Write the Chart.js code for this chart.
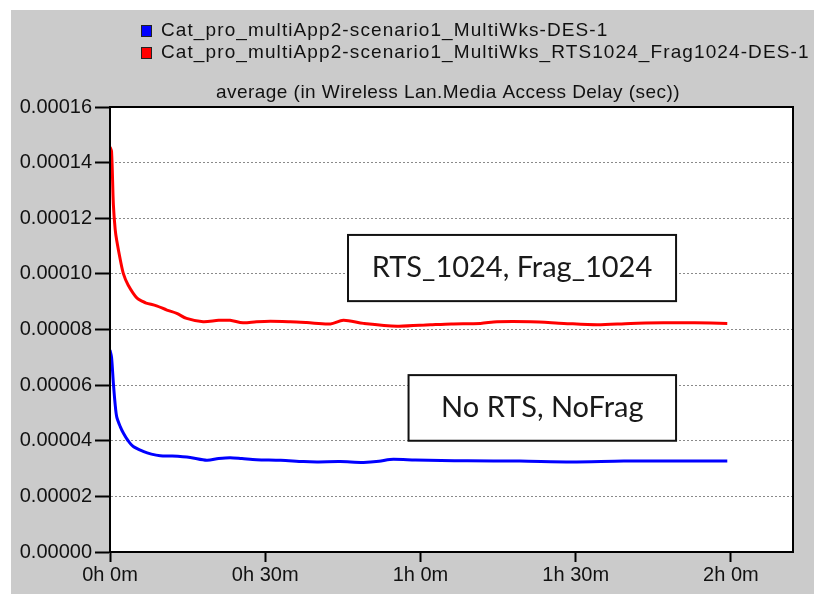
<!DOCTYPE html>
<html>
<head>
<meta charset="utf-8">
<script src="https://cdn.jsdelivr.net/npm/chart.js@4.4.0/dist/chart.umd.min.js"></script>
<style>
html, body { margin: 0; padding: 0; background: #fff; }
#wrap { width: 814px; height: 594px; }
</style>
</head>
<body>
<div id="wrap"><canvas id="myChart" width="814" height="594"></canvas></div>
<script>
// Data: Wireless LAN media access delay (sec), x in minutes of simulated time
const seriesNames = [
  'Cat_pro_multiApp2-scenario1_MultiWks-DES-1',
  'Cat_pro_multiApp2-scenario1_MultiWks_RTS1024_Frag1024-DES-1'
];
const chartTitle = 'average (in Wireless Lan.Media Access Delay (sec))';
const noteTexts = ['RTS_1024, Frag_1024', 'No RTS, NoFrag'];

// blue: no RTS, no fragmentation
const minutesBlue = [0, 0.3, 0.65, 1, 1.3, 2, 2.6, 3.5, 4.5, 6.4, 8, 9.7, 12, 15.5, 18.7, 21, 23.2, 25.5, 28.3, 33, 37.4, 40, 44.5, 49, 52, 54.1, 59, 64, 69.1, 79.2, 89.2, 99.3, 109.4, 119.3];
const delayBlue = [7.26e-5, 7.0e-5, 6.07e-5, 5.3e-5, 4.86e-5, 4.5e-5, 4.27e-5, 4.0e-5, 3.79e-5, 3.62e-5, 3.52e-5, 3.46e-5, 3.45e-5, 3.40e-5, 3.30e-5, 3.36e-5, 3.39e-5, 3.36e-5, 3.32e-5, 3.30e-5, 3.25e-5, 3.24e-5, 3.25e-5, 3.22e-5, 3.26e-5, 3.33e-5, 3.31e-5, 3.29e-5, 3.28e-5, 3.27e-5, 3.24e-5, 3.27e-5, 3.27e-5, 3.27e-5];

// red: RTS 1024, frag 1024
const minutesRed = [0, 0.3, 0.65, 1, 1.3, 2, 2.6, 3.5, 5.2, 6.4, 7, 9, 11, 12.9, 14.8, 18, 21, 23.2, 25.7, 28.3, 31, 34.8, 38, 42.6, 45.1, 49, 55.5, 61.9, 66, 71.6, 74.8, 81.3, 87.7, 94.2, 100.6, 107, 113, 119.3];
const delayRed = [1.456e-4, 1.44e-4, 1.25e-4, 1.16e-4, 1.12e-4, 1.05e-4, 1.0e-4, 9.6e-5, 9.13e-5, 9.0e-5, 8.95e-5, 8.85e-5, 8.7e-5, 8.58e-5, 8.40e-5, 8.28e-5, 8.33e-5, 8.33e-5, 8.24e-5, 8.28e-5, 8.30e-5, 8.28e-5, 8.25e-5, 8.20e-5, 8.33e-5, 8.22e-5, 8.12e-5, 8.17e-5, 8.20e-5, 8.22e-5, 8.28e-5, 8.28e-5, 8.22e-5, 8.17e-5, 8.22e-5, 8.24e-5, 8.24e-5, 8.22e-5];

const xTickMinutes = [0, 30, 60, 90, 120];
const yMax = 0.00016;
const yStep = 0.00002;
const xMax = 132;

function toPoints(xs, ys) {
  return xs.map((x, i) => ({ x: x, y: ys[i] }));
}

function minuteLabel(m) {
  return Math.floor(m / 60) + 'h ' + (m % 60) + 'm';
}

// note boxes placed in data units (minutes, seconds)
const notes = [
  { text: noteTexts[0], x0: 46.0, x1: 109.4, y0: 1.14e-4, y1: 9.02e-5 },
  { text: noteTexts[1], x0: 57.7, x1: 109.4, y0: 6.36e-5, y1: 4.0e-5 }
];

const frame = {
  id: 'frame',
  beforeDraw(chart) {
    const { ctx, chartArea: a } = chart;
    ctx.save();
    ctx.fillStyle = '#ffffff';
    ctx.fillRect(0, 0, chart.width, chart.height);
    ctx.fillStyle = '#cbcbcb';
    ctx.fillRect(11, 10, chart.width - 11, chart.height - 10);
    ctx.fillStyle = '#ffffff';
    ctx.fillRect(a.left, a.top, a.right - a.left, a.bottom - a.top);
    ctx.restore();
  },
  afterDatasetsDraw(chart) {
    const { ctx, scales } = chart;
    ctx.save();
    notes.forEach(n => {
      const l = scales.x.getPixelForValue(n.x0);
      const r = scales.x.getPixelForValue(n.x1);
      const t = scales.y.getPixelForValue(n.y0);
      const b = scales.y.getPixelForValue(n.y1);
      ctx.fillStyle = '#ffffff';
      ctx.fillRect(l, t, r - l, b - t);
      ctx.lineWidth = 2;
      ctx.strokeStyle = '#111';
      ctx.strokeRect(l, t, r - l, b - t);
      ctx.fillStyle = '#1a1a1a';
      ctx.font = '29px Lato';
      ctx.textAlign = 'center';
      ctx.textBaseline = 'middle';
      ctx.fillText(n.text, (l + r) / 2, (t + b) / 2);
    });
    ctx.restore();
  },
  afterDraw(chart) {
    const { ctx, chartArea: a } = chart;
    ctx.save();
    // plot frame top/right
    ctx.strokeStyle = '#000';
    ctx.lineWidth = 2;
    ctx.strokeRect(a.left, a.top, a.right - a.left, a.bottom - a.top);

    // legend
    const colors = ['#0000ff', '#ff0000'];
    const rows = [31, 53];
    ctx.font = '19px "Liberation Sans"';
    ctx.letterSpacing = '1.1px';
    ctx.textBaseline = 'middle';
    ctx.textAlign = 'left';
    seriesNames.forEach((name, i) => {
      ctx.fillStyle = colors[i];
      ctx.fillRect(141, rows[i] - 6, 11, 12);
      ctx.lineWidth = 1;
      ctx.strokeStyle = '#222';
      ctx.strokeRect(141.5, rows[i] - 5.5, 10, 11);
      ctx.fillStyle = '#111';
      ctx.fillText(name, 161, rows[i]);
    });

    // title
    ctx.letterSpacing = '0.45px';
    ctx.textAlign = 'center';
    ctx.fillText(chartTitle, 448, 93);
    ctx.restore();
  }
};

const config = {
  type: 'line',
  data: {
    datasets: [
      {
        label: seriesNames[0],
        data: toPoints(minutesBlue, delayBlue),
        borderColor: '#0000ff',
        borderWidth: 3,
        pointRadius: 0,
        tension: 0.3,
        fill: false
      },
      {
        label: seriesNames[1],
        data: toPoints(minutesRed, delayRed),
        borderColor: '#ff0000',
        borderWidth: 3,
        pointRadius: 0,
        tension: 0.3,
        fill: false
      }
    ]
  },
  options: {
    responsive: false,
    animation: false,
    layout: { padding: { left: 0, top: 107, right: 21, bottom: 0 } },
    plugins: {
      legend: { display: false },
      title: { display: false },
      tooltip: { enabled: false }
    },
    scales: {
      x: {
        type: 'linear',
        min: 0,
        max: xMax,
        afterFit: s => { s.height = 42; },
        afterBuildTicks: s => { s.ticks = xTickMinutes.map(v => ({ value: v })); },
        ticks: {
          callback: v => minuteLabel(v),
          color: '#111',
          padding: 1,
          maxRotation: 0,
          font: { family: 'Liberation Sans', size: 20 }
        },
        grid: {
          drawOnChartArea: false,
          drawTicks: true,
          tickLength: 10,
          tickColor: '#000',
          tickWidth: 2
        },
        border: { color: '#000', width: 2 }
      },
      y: {
        min: 0,
        max: yMax,
        afterFit: s => { s.width = 110; },
        ticks: {
          stepSize: yStep,
          callback: v => v.toFixed(5),
          color: '#111',
          padding: 3,
          font: { family: 'Liberation Sans', size: 20 }
        },
        grid: {
          color: '#8a8a8a',
          lineWidth: 1,
          tickLength: 15,
          tickColor: '#000',
          tickWidth: 2,
          tickBorderDash: []
        },
        border: { color: '#000', width: 2, dash: [2, 2] }
      }
    }
  },
  plugins: [frame]
};

const myChart = new Chart(document.getElementById('myChart'), config);
</script>
</body>
</html>
